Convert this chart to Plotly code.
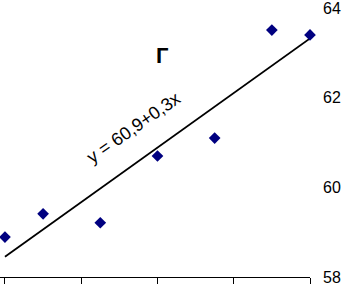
import numpy as np
import plotly.graph_objects as go

x_vals = [-8, -6, -3, 0, 3, 6, 8]
y_vals = [58.89, 59.41, 59.21, 60.70, 61.10, 63.51, 63.40]
x_ticks = [-8, -4, 0, 4, 8]
y_ticks = [58, 60, 62, 64]
title_text = "Г"
eq_text = "y = 60,9+0,3x"

slope, intercept = np.polyfit(x_vals, y_vals, 1)
trend_x = [min(x_vals), max(x_vals)]
trend_y = [intercept + slope * v for v in trend_x]

fig = go.Figure()
fig.add_trace(go.Scatter(x=trend_x, y=trend_y, mode="lines",
                         line=dict(color="black", width=1.8), hoverinfo="skip",
                         cliponaxis=False))
fig.add_trace(go.Scatter(x=x_vals, y=y_vals, mode="markers", cliponaxis=False,
                         marker=dict(symbol="diamond", size=9, color="#000080")))

fig.add_annotation(x=-1.28, y=61.33, xref="x", yref="y", text=eq_text,
                   textangle=-35, showarrow=False,
                   font=dict(family="Liberation Sans, Arial", size=18, color="black"))
fig.add_annotation(x=0.25, y=62.94, xref="x", yref="y", text="<b>" + title_text + "</b>",
                   showarrow=False,
                   font=dict(family="Liberation Sans, Arial", size=22, color="black"))

fig.update_layout(
    width=344, height=284,
    margin=dict(l=0, r=34, t=0, b=7, autoexpand=False),
    paper_bgcolor="white", plot_bgcolor="white",
    showlegend=False,
    font=dict(family="Liberation Sans, Arial", size=16, color="black"),
    xaxis=dict(range=[-8.26, 8], tickvals=x_ticks, showticklabels=False,
               ticks="outside", ticklen=7, tickcolor="black", tickwidth=1,
               showline=True, linecolor="black", linewidth=1,
               showgrid=False, zeroline=False, automargin=False),
    yaxis=dict(range=[58, 64.18], tickvals=y_ticks, side="right",
               showline=False, ticks="", showgrid=False, zeroline=False,
               ticklabelstandoff=12, automargin=False,
               ticklabeloverflow="allow"),
)

fig.write_html("out.html", config={"displayModeBar": False},
               post_script="document.body.style.margin='0';document.body.style.overflow='hidden';")
